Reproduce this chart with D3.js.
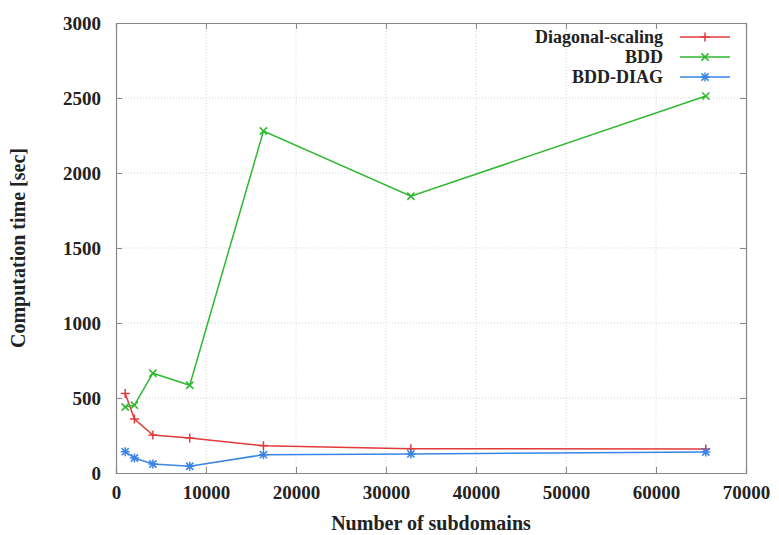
<!DOCTYPE html>
<html><head><meta charset="utf-8">
<script src="https://cdn.jsdelivr.net/npm/d3@7"></script>
<style>body{margin:0;background:#fff}svg{display:block}</style>
</head><body>
<script>
const subdomains = [1024, 2048, 4096, 8192, 16384, 32768, 65536];
const diagScaling = [530, 360, 253, 233, 182, 162, 160];
const bdd = [440, 452, 665, 585, 2280, 1845, 2513];
const bddDiag = [142, 100, 60, 45, 122, 127, 140];
const seriesNames = ["Diagonal-scaling", "BDD", "BDD-DIAG"];
const xTicks = [0, 10000, 20000, 30000, 40000, 50000, 60000, 70000];
const yTicks = [0, 500, 1000, 1500, 2000, 2500, 3000];

const W = 779, H = 535;
const m = {left: 116, right: 33, top: 23, bottom: 62};
const svg = d3.select("body").append("svg").attr("width", W).attr("height", H);
const x = d3.scaleLinear().domain([0, 70000]).range([m.left, W - m.right]);
const y = d3.scaleLinear().domain([0, 3000]).range([H - m.bottom, m.top]);
const font = "'Liberation Serif', 'Times New Roman', serif";

// grid
const g = svg.append("g");
g.selectAll(".gx").data(xTicks.slice(1, -1)).join("line")
  .attr("x1", d => x(d)).attr("x2", d => x(d)).attr("y1", y(0)).attr("y2", y(3000))
  .attr("stroke", "#c8c8c8").attr("stroke-width", 0.8).attr("stroke-dasharray", "1,2");
g.selectAll(".gy").data(yTicks.slice(1, -1)).join("line")
  .attr("x1", x(0)).attr("x2", x(70000)).attr("y1", d => y(d)).attr("y2", d => y(d))
  .attr("stroke", "#c8c8c8").attr("stroke-width", 0.8).attr("stroke-dasharray", "1,2");

// axes
const axB = svg.append("g").attr("transform", `translate(0,${y(0)})`)
  .call(d3.axisBottom(x).tickValues(xTicks).tickSize(-6).tickPadding(12).tickFormat(d3.format("d")));
const axT = svg.append("g").attr("transform", `translate(0,${y(3000)})`)
  .call(d3.axisTop(x).tickValues(xTicks).tickSize(-6).tickFormat(""));
const axL = svg.append("g").attr("transform", `translate(${x(0)},0)`)
  .call(d3.axisLeft(y).tickValues(yTicks).tickSize(-6).tickPadding(15).tickFormat(d3.format("d")));
const axR = svg.append("g").attr("transform", `translate(${x(70000)},0)`)
  .call(d3.axisRight(y).tickValues(yTicks).tickSize(-6).tickFormat(""));
[axB, axT, axL, axR].forEach(a => {
  a.attr("font-family", null).attr("font-size", null);
  a.select(".domain").attr("stroke", "#888").attr("stroke-width", 1.2);
  a.selectAll(".tick line").attr("stroke", "#888");
  a.selectAll("text").style("font-family", font).style("font-size", "19px")
    .style("font-weight", "bold").attr("fill", "#222");
});
axB.selectAll("text").attr("dy", "0.71em").attr("y", 13);

// labels
svg.append("text").attr("x", x(35000)).attr("y", 530).attr("text-anchor", "middle")
  .style("font-family", font).style("font-size", "20px").style("font-weight", "bold").attr("fill", "#222")
  .text("Number of subdomains");
svg.append("text").attr("transform", `translate(25,${y(1500)}) rotate(-90)`).attr("text-anchor", "middle")
  .style("font-family", font).style("font-size", "20px").style("font-weight", "bold").attr("fill", "#222")
  .text("Computation time [sec]");

const colors = ["#e23a3a", "#2fb82f", "#3a84e6"];
const data = [diagScaling, bdd, bddDiag];
const line = d3.line().x(d => x(d[0])).y(d => y(d[1]));

function marker(sel, type, color, cx, cy) {
  const r = 4.5;
  const gg = sel.append("g").attr("transform", `translate(${cx},${cy})`)
    .attr("stroke", color).attr("stroke-width", 1.5);
  if (type === 0 || type === 2) {
    gg.append("line").attr("x1", -r).attr("x2", r).attr("y1", 0).attr("y2", 0);
    gg.append("line").attr("x1", 0).attr("x2", 0).attr("y1", -r).attr("y2", r);
  }
  if (type === 1 || type === 2) {
    const q = r * 0.8;
    gg.append("line").attr("x1", -q).attr("x2", q).attr("y1", -q).attr("y2", q);
    gg.append("line").attr("x1", -q).attr("x2", q).attr("y1", q).attr("y2", -q);
  }
}

data.forEach((vals, i) => {
  const pts = subdomains.map((s, j) => [s, vals[j]]);
  svg.append("path").attr("d", line(pts)).attr("fill", "none")
    .attr("stroke", colors[i]).attr("stroke-width", 1.5);
  pts.forEach(p => marker(svg, i, colors[i], x(p[0]), y(p[1])));
});

// legend
const ly = [37, 57, 77];
seriesNames.forEach((n, i) => {
  svg.append("text").attr("x", 663).attr("y", ly[i]).attr("dy", "0.35em").attr("text-anchor", "end")
    .style("font-family", font).style("font-size", "18px").style("font-weight", "bold").attr("fill", "#222")
    .text(n);
  svg.append("line").attr("x1", 680).attr("x2", 730).attr("y1", ly[i]).attr("y2", ly[i])
    .attr("stroke", colors[i]).attr("stroke-width", 1.5);
  marker(svg, i, colors[i], 705, ly[i]);
});
</script>
</body></html>
